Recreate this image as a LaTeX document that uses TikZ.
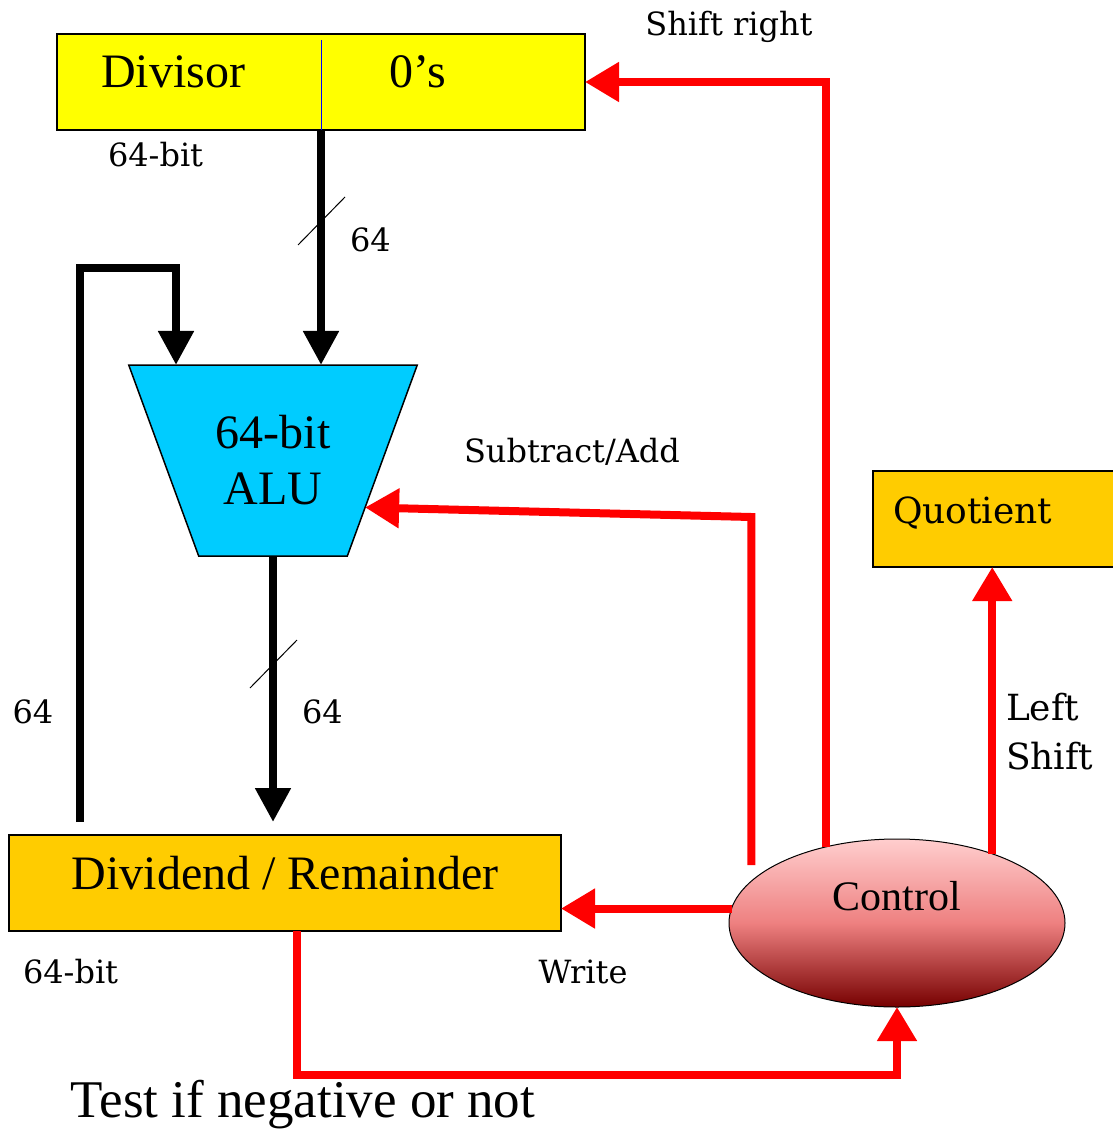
\documentclass[tikz,border=0pt]{standalone}
\usepackage{fontspec}
\setmainfont{Liberation Serif}
\newfontfamily\lblserif{DejaVu Serif}
\usepackage{tikz}
\usetikzlibrary{shapes.geometric, arrows.meta, calc}

\definecolor{regyellow}{RGB}{255,255,0}
\definecolor{reggold}{RGB}{255,204,0}
\definecolor{alucyan}{RGB}{0,204,255}
\definecolor{ctlpink}{RGB}{255,206,206}
\definecolor{ctlmid}{RGB}{238,128,128}
\definecolor{ctldark}{RGB}{118,0,0}

\begin{document}
\begin{tikzpicture}[x=1pt, y=-1pt, outer sep=0pt, >={Triangle[length=34pt,width=34pt]}]

\tikzstyle{box}=[rectangle,draw,line width=1.5pt,inner sep=0pt]
\tikzstyle{regbox}=[box,minimum height=96pt,text depth=20pt]
\tikzstyle{bigtext}=[font=\fontsize{48}{56}\selectfont]
\tikzstyle{lbl}=[font=\lblserif\fontsize{32}{38}\selectfont, inner sep=0pt]
\tikzstyle{biglbl}=[font=\lblserif\fontsize{36}{49}\selectfont, inner sep=0pt]
\tikzstyle{bus}=[line width=8pt]
\tikzstyle{ctl}=[line width=8pt, red, >={Triangle[length=34pt,width=38pt]}]
\tikzstyle{slash}=[line width=1pt]

\useasboundingbox (0,0) rectangle (1112,1131);

\node[regbox, fill=regyellow, minimum width=528pt] (divisor) at (321,82) {};
\draw[blue, line width=0.8pt] ($(divisor.north)+(0,6)$) -- (divisor.south);
\node[bigtext, inner sep=0pt] (divtext) at (173,72) {Divisor};
\node[bigtext, inner sep=0pt] (zeros) at (418,72) {0’s};
\node[lbl, anchor=west] (divbits) at (108,155) {64-bit};

\node[trapezium, draw, line width=1.5pt, fill=alucyan, trapezium angle=59, shape border rotate=180, trapezium stretches=true, minimum width=289pt, minimum height=191pt, align=center, bigtext, inner sep=0pt] (alu) at (273,460.5) {64-bit\\ALU};

\node[regbox, fill=reggold, minimum width=552pt, bigtext] (dividend) at (285,883) {Dividend / Remainder};
\node[lbl, anchor=west] (dvdbits) at (23,972) {64-bit};

\node[regbox, fill=reggold, minimum width=243pt, text width=203pt, align=left, biglbl, text depth=18pt] (quotient) at (994.5,519) {Quotient};

\node[ellipse, draw, line width=1pt, top color=ctlpink, bottom color=ctldark, middle color=ctlmid, minimum width=336pt, minimum height=168pt] (control) at (897,923) {};
\node[font=\fontsize{42}{48}\selectfont, inner sep=0pt] (ctltext) at ($(control.center)+(0,-27)$) {Control};

\coordinate (fbtop) at (80,268);
\coordinate (fbin) at (176,268);
\coordinate (sabend) at (752,517);
\coordinate (testbend) at (297,1075);

\draw[bus,->] (divisor.south) -- (divisor.south |- alu.north);
\draw[slash] (298,245) -- (345,197);
\node[lbl, anchor=west] (bus1) at (350,240) {64};

\draw[bus,->] ($(dividend.north -| fbtop)+(0,-13)$) -- (fbtop) -- (fbin) -- (fbin |- alu.north);
\node[lbl] (bus3) at (33,712) {64};

\draw[bus,->,shorten >=13pt] (alu.south) -- (alu.south |- dividend.north);
\draw[slash] (250,688) -- (297,640);
\node[lbl, anchor=west] (bus2) at (302,712) {64};

\draw[ctl,->] (control.175) -- (control.175 -| dividend.east);
\node[lbl] (write) at (583,972) {Write};

\draw[ctl,->] (dividend.south -| testbend) -- (testbend) -| (control.south);
\node[font=\fontsize{53}{58}\selectfont, inner sep=0pt] (test) at (303,1105) {Test if negative or not};

\draw[ctl,->,shorten <=16pt] (control.164) -- (control.164 |- sabend) -- (alu.-27);
\node[lbl] (subadd) at (572,452) {Subtract/Add};

\draw[ctl,->] (control.133) -- (control.133 |- divisor.east) -- (divisor.east);
\node[lbl] (shiftr) at (729,27) {Shift right};

\draw[ctl,->] (control.36) -- (control.36 |- quotient.south);
\node[biglbl, anchor=west, align=left] (lshift) at (1006,732) {Left\\Shift};
\end{tikzpicture}
\end{document}
